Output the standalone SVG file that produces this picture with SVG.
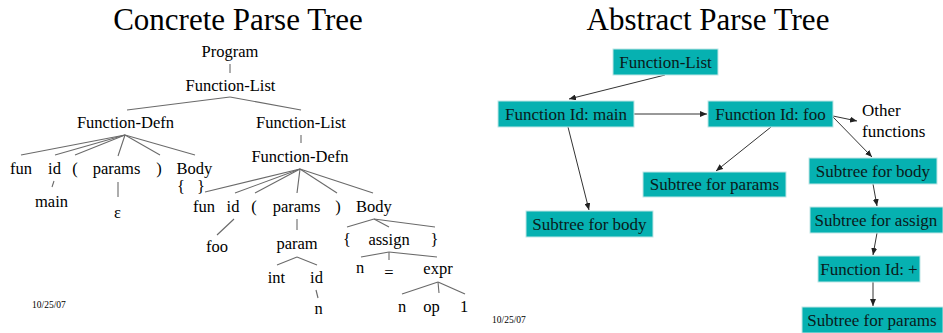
<svg xmlns="http://www.w3.org/2000/svg" width="943" height="333" viewBox="0 0 943 333" font-family="'Liberation Serif', 'DejaVu Serif', serif">
  <style>
    text { fill: #000; }
    .title { font-size: 31px; text-anchor: middle; }
    .t { font-size: 16.5px; text-anchor: middle; }
    .lbl { font-size: 17px; text-anchor: middle; fill: #0a1a1a; }
    .side { font-size: 17px; }
    .date { font-size: 9.5px; }
    .edge { stroke: #6a6a6a; stroke-width: 1.1; fill: none; }
    .arrow { stroke: #333; stroke-width: 1; fill: none; marker-end: url(#head); }
    .box { fill: #06b1b1; stroke: #bfe6e6; stroke-width: 1; }
  </style>
  <defs>
    <marker id="head" markerUnits="userSpaceOnUse" markerWidth="7" markerHeight="6" refX="7" refY="3" orient="auto">
      <path d="M0,0 L7,3 L0,6 z" fill="#222"/>
    </marker>
  </defs>

  <rect width="943" height="333" fill="#fff"/>

  <!-- headings -->
  <text class="title" x="238" y="30">Concrete Parse Tree</text>
  <text class="title" x="708" y="30">Abstract Parse Tree</text>
  <text class="date" x="32" y="308">10/25/07</text>
  <text class="date" x="492" y="323">10/25/07</text>

  <!-- concrete tree edges -->
  <g id="concrete-edges">
    <line class="edge" x1="230" y1="64" x2="230" y2="73"/>
    <line class="edge" x1="230" y1="97" x2="127" y2="110"/>
    <line class="edge" x1="230" y1="97" x2="301" y2="110"/>
    <line class="edge" x1="301" y1="135" x2="301" y2="143"/>
    <!-- left Function-Defn -->
    <line class="edge" x1="125" y1="135" x2="21" y2="155"/>
    <line class="edge" x1="125" y1="135" x2="55" y2="155"/>
    <line class="edge" x1="125" y1="135" x2="75" y2="155"/>
    <line class="edge" x1="125" y1="135" x2="118" y2="156"/>
    <line class="edge" x1="125" y1="135" x2="160" y2="155"/>
    <line class="edge" x1="125" y1="135" x2="195" y2="155"/>
    <line class="edge" x1="54" y1="181" x2="52" y2="187"/>
    <line class="edge" x1="118" y1="182" x2="118" y2="197"/>
    <!-- right Function-Defn -->
    <line class="edge" x1="300" y1="169" x2="205" y2="192"/>
    <line class="edge" x1="300" y1="169" x2="235" y2="193"/>
    <line class="edge" x1="300" y1="169" x2="255" y2="193"/>
    <line class="edge" x1="300" y1="169" x2="297" y2="193"/>
    <line class="edge" x1="300" y1="169" x2="337" y2="193"/>
    <line class="edge" x1="300" y1="169" x2="373" y2="193"/>
    <line class="edge" x1="234" y1="219" x2="217" y2="235"/>
    <line class="edge" x1="297" y1="219" x2="297" y2="230"/>
    <line class="edge" x1="374" y1="219" x2="347" y2="227"/>
    <line class="edge" x1="374" y1="219" x2="389" y2="227"/>
    <line class="edge" x1="374" y1="219" x2="435" y2="227"/>
    <line class="edge" x1="389" y1="252" x2="361" y2="257"/>
    <line class="edge" x1="389" y1="252" x2="389" y2="260"/>
    <line class="edge" x1="389" y1="252" x2="437" y2="257"/>
    <line class="edge" x1="438" y1="282" x2="402" y2="294"/>
    <line class="edge" x1="438" y1="282" x2="439" y2="293"/>
    <line class="edge" x1="438" y1="282" x2="465" y2="294"/>
    <line class="edge" x1="297" y1="257" x2="277" y2="265"/>
    <line class="edge" x1="297" y1="257" x2="317" y2="265"/>
    <line class="edge" x1="316" y1="290" x2="318" y2="298"/>
  </g>

  <!-- concrete tree nodes -->
  <g id="c-program"><text class="t" x="230" y="57">Program</text></g>
  <g id="c-funclist"><text class="t" x="230.5" y="91">Function-List</text></g>
  <g id="c-defn1"><text class="t" x="125.5" y="128">Function-Defn</text></g>
  <g id="c-funclist2"><text class="t" x="301" y="128">Function-List</text></g>
  <g id="c-defn2"><text class="t" x="300" y="162">Function-Defn</text></g>

  <g id="c-fun1"><text class="t" x="21" y="174">fun</text></g>
  <g id="c-id1"><text class="t" x="54.5" y="174">id</text></g>
  <g id="c-lp1"><text class="t" x="75" y="174">(</text></g>
  <g id="c-params1"><text class="t" x="116.5" y="174">params</text></g>
  <g id="c-rp1"><text class="t" x="159" y="174">)</text></g>
  <g id="c-body1"><text class="t" x="194.5" y="174">Body</text></g>
  <g id="c-braces1"><text class="t" y="192"><tspan x="181">{</tspan><tspan x="201">}</tspan></text></g>
  <g id="c-main"><text class="t" x="51.5" y="207">main</text></g>
  <g id="c-eps"><text class="t" x="117.5" y="218">ε</text></g>

  <g id="c-fun2"><text class="t" x="204" y="212">fun</text></g>
  <g id="c-id2"><text class="t" x="233" y="212">id</text></g>
  <g id="c-lp2"><text class="t" x="254" y="212">(</text></g>
  <g id="c-params2"><text class="t" x="296.5" y="212">params</text></g>
  <g id="c-rp2"><text class="t" x="338" y="212">)</text></g>
  <g id="c-body2"><text class="t" x="374" y="212">Body</text></g>
  <g id="c-foo"><text class="t" x="217" y="252">foo</text></g>
  <g id="c-param"><text class="t" x="297" y="249">param</text></g>
  <g id="c-int"><text class="t" x="276.5" y="283">int</text></g>
  <g id="c-id3"><text class="t" x="316.5" y="283">id</text></g>
  <g id="c-n1"><text class="t" x="318.5" y="314">n</text></g>
  <g id="c-lb2"><text class="t" x="347" y="245">{</text></g>
  <g id="c-assign"><text class="t" x="389" y="245">assign</text></g>
  <g id="c-rb2"><text class="t" x="434.5" y="245">}</text></g>
  <g id="c-n2"><text class="t" x="360" y="273">n</text></g>
  <g id="c-eq"><text class="t" x="389" y="278">=</text></g>
  <g id="c-expr"><text class="t" x="438" y="274">expr</text></g>
  <g id="c-n3"><text class="t" x="402" y="312">n</text></g>
  <g id="c-op"><text class="t" x="431.5" y="312">op</text></g>
  <g id="c-one"><text class="t" x="464" y="312">1</text></g>

  <!-- abstract tree connectors -->
  <g id="abstract-edges">
    <line class="arrow" x1="665" y1="75" x2="569" y2="99"/>
    <line class="arrow" x1="634" y1="114" x2="707" y2="114"/>
    <line class="arrow" x1="568" y1="127" x2="589" y2="210"/>
    <line class="arrow" x1="771" y1="127" x2="716" y2="171"/>
    <line class="arrow" x1="833" y1="116" x2="857" y2="121"/>
    <line class="arrow" x1="833" y1="117" x2="872" y2="157"/>
    <line class="arrow" x1="873" y1="184" x2="877" y2="206"/>
    <line class="arrow" x1="877" y1="233" x2="873" y2="255"/>
    <line class="arrow" x1="873" y1="282" x2="873" y2="306"/>
  </g>

  <!-- abstract tree nodes -->
  <g id="a-funclist">
    <rect class="box" x="613" y="49" width="105" height="26"/>
    <text class="lbl" x="665.5" y="67.5">Function-List</text>
  </g>
  <g id="a-main">
    <rect class="box" x="498" y="101" width="136" height="26"/>
    <text class="lbl" x="566" y="119.5">Function Id: main</text>
  </g>
  <g id="a-foo">
    <rect class="box" x="708" y="101" width="125" height="26"/>
    <text class="lbl" x="770.5" y="119.5">Function Id: foo</text>
  </g>
  <g id="a-other">
    <text class="side" x="862" y="116">Other</text>
    <text class="side" x="862" y="137">functions</text>
  </g>
  <g id="a-body-foo">
    <rect class="box" x="809" y="158" width="128" height="26"/>
    <text class="lbl" x="873" y="176.5">Subtree for body</text>
  </g>
  <g id="a-params-foo">
    <rect class="box" x="643" y="172" width="143" height="25"/>
    <text class="lbl" x="714.5" y="190">Subtree for params</text>
  </g>
  <g id="a-body-main">
    <rect class="box" x="526" y="211" width="127" height="26"/>
    <text class="lbl" x="589.5" y="229.5">Subtree for body</text>
  </g>
  <g id="a-assign">
    <rect class="box" x="810" y="207" width="133" height="26"/>
    <text class="lbl" x="876" y="225.5">Subtree for assign</text>
  </g>
  <g id="a-plus">
    <rect class="box" x="818" y="256" width="102" height="26"/>
    <text class="lbl" x="869" y="274.5">Function Id: +</text>
  </g>
  <g id="a-params-plus">
    <rect class="box" x="802" y="307" width="141" height="26"/>
    <text class="lbl" x="872" y="325.5">Subtree for params</text>
  </g>
</svg>
